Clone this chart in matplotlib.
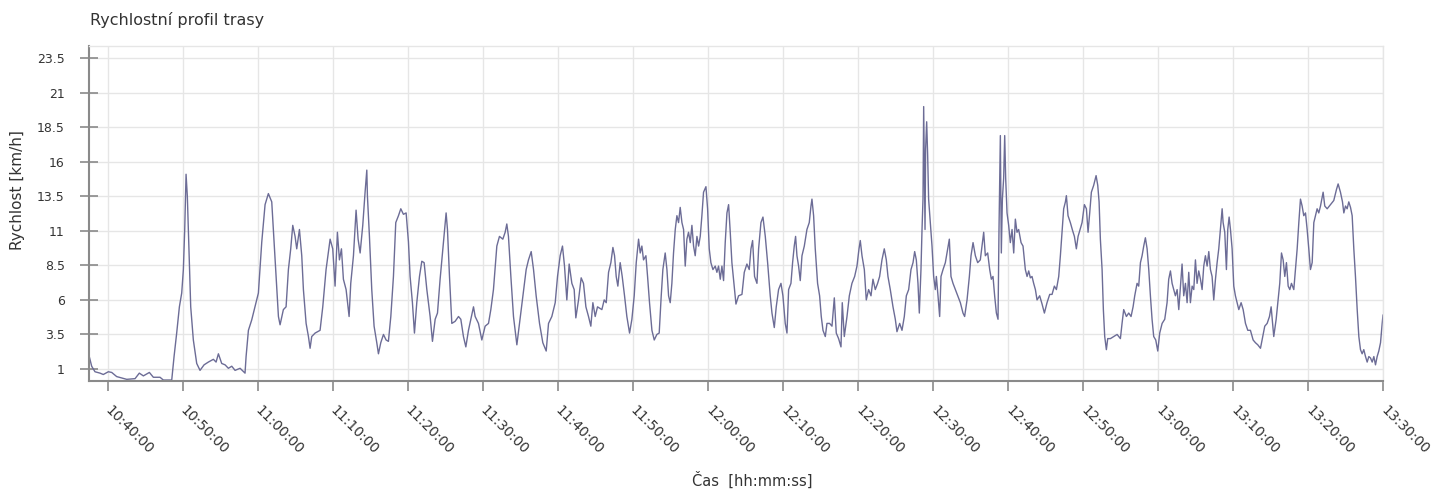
import matplotlib
matplotlib.use("Agg")
import matplotlib.pyplot as plt
import matplotlib.dates as mdates
import matplotlib.transforms as mtransforms
import pandas as pd

# GPS speed log, minutes elapsed since 10:40:00 and speed in km/h
elapsed_min = [
    -2.43, -2.11, -1.67, -1.00, -0.56, 0.11, 0.56, 1.22, 2.56, 3.67,
    4.24, 4.78, 5.58, 6.11, 7.00, 7.44, 8.56, 8.87, 9.22, 9.58,
    9.89, 10.11, 10.29, 10.47, 10.64, 10.82, 11.09, 11.44, 11.89, 12.33,
    12.87, 13.44, 14.11, 14.47, 14.78, 15.22, 15.67, 16.11, 16.56, 17.00,
    17.67, 18.33, 18.47, 18.78, 19.22,
    20.11, 20.56, 21.00, 21.44, 21.89, 22.20, 22.47, 22.78, 23.00, 23.44,
    23.80, 24.11, 24.42, 24.69, 25.00, 25.22, 25.58, 25.89, 26.11, 26.47,
    26.78, 27.00, 27.22, 27.67, 28.33, 28.69, 29.13, 29.67, 30.02, 30.33,
    30.64, 30.91, 31.18, 31.44, 31.80, 32.20, 32.42, 32.78, 33.13, 33.40,
    33.67, 34.02, 34.33, 34.56, 34.64, 34.91, 35.22, 35.53, 35.89, 36.11,
    36.42, 36.78, 37.13, 37.44, 37.76, 38.11, 38.42, 38.78, 39.09, 39.44,
    39.80, 40.11, 40.33, 40.64, 40.91, 41.22, 41.58, 41.89, 42.20, 42.56,
    43.00,
    43.31, 43.67, 43.98, 44.33, 44.69, 45.00, 45.13, 45.31, 45.58, 45.89,
    46.33, 46.78, 47.09, 47.44, 47.76, 48.11, 48.42, 48.78, 49.00, 49.44,
    49.89, 50.33, 50.78, 51.09, 51.44, 51.89, 52.24, 52.69, 53.00, 53.22,
    53.44, 53.76, 54.11, 54.56, 54.91, 55.36, 55.80, 56.11, 56.47, 56.78,
    57.13, 57.58, 58.02, 58.47, 58.78, 59.22, 59.67, 59.98, 60.33, 60.64,
    60.91, 61.22, 61.53, 61.89, 62.20, 62.42, 62.78, 63.13, 63.44, 63.76,
    64.11, 64.42, 64.69, 65.00, 65.31,
    65.89, 66.20, 66.47, 66.78, 67.09, 67.36, 67.58, 67.80, 68.02, 68.33,
    68.60, 68.91, 69.22, 69.58, 69.89, 70.20, 70.47, 70.78, 71.00, 71.22,
    71.44, 71.76, 71.98, 72.24, 72.56, 72.87, 73.22, 73.53, 73.80, 74.02,
    74.33, 74.56, 74.78, 75.00, 75.22, 75.44, 75.67, 75.89, 76.11, 76.33,
    76.56, 76.78, 77.00, 77.22, 77.44, 77.67, 77.89, 78.11, 78.33, 78.56,
    78.78, 79.00, 79.22, 79.44, 79.76, 79.98, 80.20, 80.42, 80.69, 81.00,
    81.22, 81.44, 81.67, 81.89, 82.11, 82.33, 82.56, 82.78, 83.00, 83.22,
    83.44, 83.76, 84.11, 84.56, 84.87, 85.22, 85.53, 85.76, 85.98, 86.24,
    86.56, 86.78, 87.09, 87.36, 87.67, 87.98, 88.33,
    88.56, 88.87, 89.13, 89.44, 89.76, 90.02, 90.33, 90.56, 90.78, 91.09,
    91.31, 91.53, 91.71, 91.89, 92.11, 92.33, 92.56, 92.87, 93.22, 93.53,
    93.76, 93.89, 94.11, 94.33, 94.64, 94.91, 95.13, 95.36, 95.67, 95.89,
    96.24, 96.56, 96.87, 97.13, 97.44, 97.76, 97.93, 98.20, 98.56, 98.87,
    99.22, 99.58, 99.89, 100.16, 100.33, 100.56, 100.87, 101.13, 101.44, 101.76,
    102.02, 102.33, 102.64, 102.91, 103.22, 103.53, 103.80, 104.02, 104.33, 104.69,
    105.00, 105.22, 105.58, 105.89, 106.20, 106.47, 106.78, 107.09, 107.36, 107.58,
    107.80, 108.02, 108.20, 108.42, 108.56, 108.69, 108.78, 108.87, 108.96, 109.04,
    109.18, 109.31, 109.44, 109.67, 109.89, 110.11, 110.33,
    110.47, 110.69, 110.91, 111.09, 111.36, 111.67, 111.98, 112.20, 112.42, 112.69,
    113.00, 113.31, 113.67, 114.02, 114.24, 114.56, 114.87, 115.09, 115.36, 115.67,
    115.98, 116.33, 116.56, 116.78, 117.00, 117.31, 117.58, 117.80, 118.02, 118.24,
    118.47, 118.69, 118.82, 119.00, 119.13, 119.27, 119.44, 119.58, 119.71, 119.89,
    120.11, 120.33, 120.56, 120.78, 121.00, 121.22, 121.44, 121.76, 122.02, 122.33,
    122.56, 122.78, 123.00, 123.22, 123.44, 123.67, 123.89, 124.24, 124.56, 124.87,
    125.22, 125.58, 125.89, 126.20, 126.47, 126.78, 127.00, 127.22, 127.44, 127.67,
    127.80, 128.02, 128.33, 128.64, 128.87, 129.13, 129.36,
    129.89, 130.20, 130.47, 130.69, 130.91, 131.13, 131.44, 131.76, 131.98, 132.16,
    132.33, 132.56, 132.73, 132.91, 133.13, 133.31, 133.67, 134.11, 134.56, 135.00,
    135.22, 135.44, 135.80, 136.11, 136.42, 136.69, 136.91, 137.22, 137.44, 137.67,
    137.89, 138.11, 138.33, 138.56, 138.78, 139.00, 139.22, 139.44, 139.71, 139.98,
    140.24, 140.56, 140.91, 141.22, 141.44, 141.67, 141.89, 142.11, 142.33, 142.56,
    142.78, 143.00, 143.22, 143.44, 143.67, 143.89, 144.11, 144.33, 144.56, 144.78,
    145.00, 145.22, 145.44, 145.67, 145.89, 146.11, 146.33, 146.56, 146.78, 147.00,
    147.22, 147.44, 147.67, 147.89, 148.11, 148.33, 148.56, 148.69, 148.91, 149.13,
    149.31, 149.49, 149.67, 149.89, 150.11, 150.33, 150.56, 150.78,
    151.09, 151.36, 151.67, 151.98, 152.33, 152.69, 153.00, 153.31, 153.67, 153.98,
    154.24, 154.56, 154.87, 155.09, 155.44, 155.76, 155.98, 156.24, 156.47, 156.69,
    156.91, 157.13, 157.36, 157.58, 157.80, 158.11, 158.33, 158.56, 158.78, 159.00,
    159.22, 159.44, 159.67, 159.89, 160.11, 160.33, 160.56, 160.78, 161.00, 161.22,
    161.44, 161.67, 162.02, 162.24, 162.56, 163.00, 163.44, 163.80, 164.02, 164.33,
    164.60, 164.78, 165.00, 165.22, 165.44, 165.67, 165.89, 166.11, 166.33, 166.56,
    166.78, 167.00, 167.22, 167.44, 167.67, 167.89, 168.11, 168.33, 168.56, 168.78,
    169.00, 169.22, 169.44, 169.67, 169.89, 170.00,
]

speed_kmh = [
    1.9, 1.2, 0.8, 0.7, 0.6, 0.8, 0.75, 0.45, 0.25, 0.3,
    0.7, 0.5, 0.75, 0.4, 0.4, 0.2, 0.2, 1.9, 3.6, 5.5,
    6.5, 8.2, 11.1, 15.1, 13.5, 10.4, 5.5, 3.1, 1.4, 0.9,
    1.3, 1.5, 1.7, 1.5, 2.1, 1.4, 1.3, 1.05, 1.2, 0.9,
    1.05, 0.7, 1.9, 3.8, 4.55,
    6.5, 10.2, 12.9, 13.7, 13.1, 10.2, 7.7, 4.8, 4.2, 5.3,
    5.5, 8.2, 9.7, 11.4, 10.6, 9.7, 11.1, 9.2, 6.75, 4.3,
    3.35, 2.5, 3.35, 3.6, 3.8, 5.5, 8.2, 10.4, 9.7, 7.0,
    10.9, 8.9, 9.7, 7.5, 6.75, 4.8, 7.2, 9.2, 12.5, 10.4,
    9.4, 11.4, 13.8, 15.4, 13.55, 10.6, 6.75, 4.1, 2.9, 2.1,
    2.9, 3.5, 3.1, 3.0, 4.8, 7.7, 11.6, 12.1, 12.6, 12.2,
    12.3, 10.2, 7.7, 5.8, 3.6, 5.8, 7.7, 8.8, 8.7, 6.75,
    4.8,
    3.0, 4.6, 5.05, 7.5, 9.7, 11.6, 12.3, 11.1, 7.7, 4.3,
    4.45, 4.8, 4.6, 3.35, 2.6, 3.8, 4.6, 5.5, 4.8, 4.3,
    3.1, 4.1, 4.3, 5.3, 6.75, 9.9, 10.6, 10.4, 10.9, 11.5,
    10.6, 7.7, 4.8, 2.75, 4.3, 6.3, 8.2, 8.9, 9.5, 8.2,
    6.3, 4.3, 2.9, 2.3, 4.3, 4.8, 5.8, 7.7, 9.2, 9.9,
    8.45, 6.0, 8.6, 7.2, 6.75, 4.7, 6.0, 7.6, 7.2, 5.5,
    4.8, 4.1, 5.8, 4.8, 5.5,
    5.3, 6.0, 5.8, 8.0, 8.7, 9.8, 9.2, 7.7, 7.0, 8.7,
    7.7, 6.3, 4.8, 3.6, 4.6, 6.3, 8.7, 10.4, 9.4, 9.9,
    8.9, 9.2, 7.7, 5.8, 3.8, 3.1, 3.5, 3.6, 6.3, 8.2,
    9.4, 8.2, 6.3, 5.8, 7.2, 9.4, 11.1, 12.1, 11.6, 12.7,
    11.6, 11.1, 8.45, 10.4, 10.9, 10.15, 11.4, 9.9, 9.2, 10.6,
    9.9, 10.6, 12.1, 13.8, 14.2, 12.6, 9.7, 8.7, 8.2, 8.45,
    8.0, 8.45, 7.5, 8.45, 7.4, 10.15, 12.3, 12.9, 10.9, 8.7,
    7.5, 5.7, 6.3, 6.4, 8.0, 8.6, 8.2, 9.7, 10.3, 7.7,
    7.2, 9.7, 11.6, 12.0, 10.6, 8.7, 6.3,
    5.05, 4.0, 5.5, 6.75, 7.2, 6.3, 4.3, 3.6, 6.75, 7.2,
    8.7, 9.9, 10.6, 9.2, 8.45, 7.4, 9.2, 9.9, 11.1, 11.6,
    12.8, 13.3, 12.1, 9.7, 7.2, 6.3, 4.8, 3.8, 3.35, 4.3,
    4.3, 4.1, 6.15, 3.6, 3.2, 2.6, 5.8, 3.35, 4.8, 6.3,
    7.2, 7.7, 8.45, 9.7, 10.3, 9.2, 8.2, 6.0, 6.75, 6.3,
    7.5, 6.75, 7.2, 7.7, 8.9, 9.7, 8.9, 7.7, 6.75, 5.5,
    4.6, 3.7, 4.3, 3.8, 4.8, 6.3, 6.75, 8.2, 8.7, 9.5,
    8.9, 7.2, 5.05, 8.2, 11.1, 13.3, 20.0, 15.25, 11.1, 16.95,
    18.9, 16.5, 13.3, 11.6, 9.9, 7.7, 6.75,
    7.7, 6.3, 4.8, 7.7, 8.2, 8.7, 9.7, 10.4, 7.7, 7.2,
    6.75, 6.3, 5.8, 5.05, 4.8, 6.0, 7.7, 9.2, 10.15, 9.2,
    8.7, 8.9, 9.9, 10.9, 9.2, 9.4, 8.2, 7.5, 7.7, 6.3,
    5.05, 4.6, 11.1, 17.9, 9.4, 13.3, 14.8, 17.9, 14.8, 12.3,
    11.4, 10.15, 11.1, 9.4, 11.85, 10.9, 11.1, 10.15, 9.9, 8.2,
    7.7, 8.1, 7.6, 7.7, 7.2, 6.75, 6.0, 6.3, 5.7, 5.05,
    5.8, 6.4, 6.4, 7.0, 6.75, 7.7, 9.2, 10.9, 12.6, 13.1,
    13.55, 12.1, 11.6, 11.0, 10.6, 9.7, 10.6,
    11.6, 12.9, 12.6, 10.9, 12.3, 13.8, 14.3, 15.0, 14.3, 13.1,
    10.4, 8.2, 5.3, 3.35, 2.4, 3.2, 3.2, 3.35, 3.5, 3.2,
    4.3, 5.3, 4.8, 5.05, 4.8, 5.5, 6.3, 7.2, 7.0, 8.7,
    9.2, 9.9, 10.5, 9.7, 8.2, 6.3, 4.6, 3.35, 3.1, 2.3,
    3.6, 4.3, 4.6, 5.8, 7.5, 8.1, 7.2, 6.75, 6.3, 6.75,
    5.3, 7.0, 8.6, 6.3, 7.2, 5.8, 8.0, 5.8, 7.0, 6.75,
    8.9, 7.2, 8.1, 7.5, 6.75, 8.45, 9.2, 8.45, 9.5, 8.2,
    7.7, 6.0, 7.5, 8.7, 9.7, 11.1, 12.6, 11.6, 10.9, 8.2,
    11.1, 12.0, 11.1, 9.7, 7.0, 6.3, 5.8, 5.3,
    5.8, 5.3, 4.3, 3.8, 3.8, 3.1, 2.9, 2.75, 2.5, 3.35,
    4.1, 4.3, 4.8, 5.5, 3.35, 4.6, 5.8, 7.2, 9.4, 8.9,
    7.7, 8.7, 7.0, 6.75, 7.2, 6.75, 8.2, 9.7, 11.6, 13.3,
    12.8, 12.1, 12.3, 11.1, 9.7, 8.2, 8.7, 11.6, 12.1, 12.6,
    12.3, 12.8, 13.8, 12.8, 12.6, 12.9, 13.2, 14.0, 14.4, 13.8,
    13.1, 12.3, 12.8, 12.6, 13.1, 12.7, 12.1, 9.7, 7.7, 5.3,
    3.35, 2.4, 2.1, 2.4, 1.9, 1.5, 1.9, 1.8, 1.5, 1.9,
    1.3, 1.9, 2.3, 2.9, 4.3, 4.9,
]

y_ticks = [1, 3.5, 6, 8.5, 11, 13.5, 16, 18.5, 21, 23.5]
y_tick_labels = ["1", "3.5", "6", "8.5", "11", "13.5", "16", "18.5", "21", "23.5"]

assert len(elapsed_min) == len(speed_kmh), (len(elapsed_min), len(speed_kmh))

t0 = pd.Timestamp("2000-01-01 10:40:00")
times = t0 + pd.to_timedelta(elapsed_min, unit="min")

fig = plt.figure(figsize=(14.5, 4.9), dpi=100)
ax = fig.add_axes([89 / 1450, 1 - 381 / 490, (1383 - 89) / 1450, (381 - 46.5) / 490])

ax.plot(times, speed_kmh, color="#6c6c96", linewidth=1.0)

ax.set_xlim(pd.Timestamp("2000-01-01 10:37:32"), pd.Timestamp("2000-01-01 13:30:00"))
ax.set_ylim(0.13, 24.35)

ax.set_yticks(y_ticks)
ax.set_yticklabels(y_tick_labels)
ax.xaxis.set_major_locator(mdates.MinuteLocator(byminute=[0, 10, 20, 30, 40, 50]))
ax.xaxis.set_major_formatter(mdates.DateFormatter("%H:%M:%S"))

ax.grid(True, color="#e6e6e6", linewidth=1.0)
ax.set_axisbelow(True)

for side in ["left", "bottom"]:
    ax.spines[side].set_color("#8a8a8a")
    ax.spines[side].set_linewidth(1.5)
for side in ["top", "right"]:
    ax.spines[side].set_color("#e6e6e6")
    ax.spines[side].set_linewidth(1.0)

ax.tick_params(axis="y", direction="inout", length=13, width=1.2, color="#8a8a8a",
               labelsize=9, labelcolor="#333333", pad=11)
ax.tick_params(axis="x", direction="out", length=7, width=1.2, color="#8a8a8a",
               labelsize=10, labelcolor="#333333", pad=9)
shift = mtransforms.ScaledTranslation(5 / 100, 0, fig.dpi_scale_trans)
for lbl in ax.get_xticklabels():
    lbl.set_rotation(-45)
    lbl.set_ha("left")
    lbl.set_va("top")
    lbl.set_rotation_mode("anchor")
    lbl.set_transform(lbl.get_transform() + shift)

fig.text(90 / 1450, 1 - 20 / 490, "Rychlostní profil trasy", ha="left", va="center",
         fontsize=11.5, color="#333333")
fig.text(18 / 1450, 1 - 250 / 490, "Rychlost [km/h]", rotation=90, ha="center", va="bottom",
         fontsize=11, color="#333333")
fig.text(752 / 1450, 1 - 480 / 490, "Čas  [hh:mm:ss]", ha="center", va="center",
         fontsize=10.5, color="#333333")

fig.savefig("out.png", dpi=100)
